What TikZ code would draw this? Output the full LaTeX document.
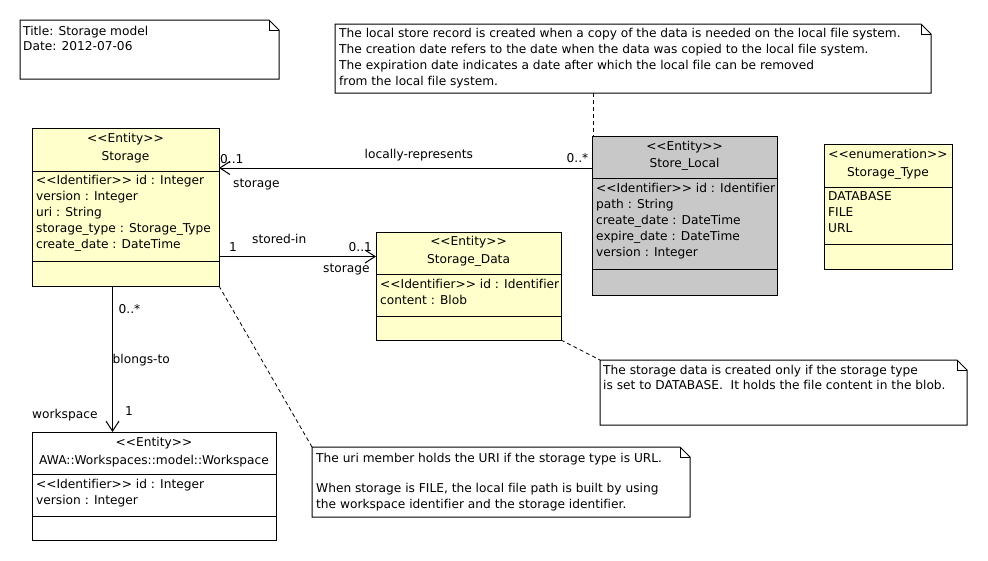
\documentclass[tikz,border=0pt]{standalone}
\usepackage{fontspec}
\setmainfont{DejaVu Sans}[Ligatures={TeXOff,NoCommon}]
\usetikzlibrary{arrows.meta}

\definecolor{entityfill}{RGB}{255,255,204}
\definecolor{localfill}{RGB}{200,200,200}

% stereotype label such as <<Entity>>
\newcommand\stereo[1]{<{}<#1>{}>}
% outline of a note with a folded top-right corner
\newcommand\drawnote[1]{%
  \draw[noteline] (#1.north west) -- ([xshift=-10pt]#1.north east)
     -- ([yshift=-10pt]#1.north east) -- (#1.south east) -- (#1.south west) -- cycle;
  \draw[noteline] ([xshift=-10pt]#1.north east) -- ([xshift=-10pt,yshift=-10pt]#1.north east)
     -- ([yshift=-10pt]#1.north east);}

\begin{document}
\begin{tikzpicture}[x=1pt,y=-1pt,
  every node/.style={font=\fontsize{12.2}{15}\selectfont},
  box/.style={draw=black, line width=1pt, anchor=north west, inner sep=0pt, outer sep=0pt},
  entity/.style={box, fill=entityfill},
  notebox/.style={anchor=north west, inner sep=0pt, outer sep=0pt, fill=white},
  noteline/.style={draw=black, line width=1pt, line join=miter},
  sep/.style={draw=black, line width=1pt},
  tl/.style={anchor=base west, inner sep=0pt},
  tc/.style={anchor=base, inner sep=0pt},
  assoc/.style={draw=black, line width=1pt, -{Straight Barb[length=10pt,width=13pt]}},
  notelink/.style={draw=black, line width=0.8pt, dash pattern=on 4pt off 3pt}]
\useasboundingbox (0,0) rectangle (988,560);

% ---------- notes ----------
\node[notebox, minimum width=259pt, minimum height=59pt] (title) at (20,20) {};
\drawnote{title}
\node[tl] (title1) at (23,35) {Title: Storage model};
\node[tl] (title2) at (23,50) {Date: 2012-07-06};

\node[notebox, minimum width=596pt, minimum height=69pt] (localnote) at (335,24) {};
\drawnote{localnote}
\node[tl] (ln1) at (339,37) {The local store record is created when a copy of the data is needed on the local file system.};
\node[tl] (ln2) at (339,53) {The creation date refers to the date when the data was copied to the local file system.};
\node[tl] (ln3) at (339,69) {The expiration date indicates a date after which the local file can be removed};
\node[tl] (ln4) at (339,85) {from the local file system.};

\node[notebox, minimum width=367pt, minimum height=65pt] (datanote) at (600,360) {};
\drawnote{datanote}
\node[tl] (dn1) at (603,374) {The storage data is created only if the storage type};
\node[tl] (dn2) at (603,389) {is set to DATABASE.\ \ It holds the file content in the blob.};

\node[notebox, minimum width=378pt, minimum height=70pt] (urinote) at (312,447) {};
\drawnote{urinote}
\node[tl] (un1) at (316,462) {The uri member holds the URI if the storage type is URL.};
\node[tl] (un2) at (316,492) {When storage is FILE, the local file path is built by using};
\node[tl] (un3) at (316,508) {the workspace identifier and the storage identifier.};

% ---------- Storage ----------
\node[entity, minimum width=187pt, minimum height=158pt] (storage) at (32,128) {};
\draw[sep] (storage.west |- 0,171) -- (storage.east |- 0,171);
\draw[sep] (storage.west |- 0,261) -- (storage.east |- 0,261);
\node[tc] (storage-st) at (125.5,142.5) {\stereo{Entity}};
\node[tc] (storage-nm) at (125.5,160.5) {Storage};
\node[tl] (storage-a1) at (36,184.5) {\stereo{Identifier} id : Integer};
\node[tl] (storage-a2) at (36,200.5) {version : Integer};
\node[tl] (storage-a3) at (36,216.5) {uri : String};
\node[tl] (storage-a4) at (36,232.5) {storage\_type : Storage\_Type};
\node[tl] (storage-a5) at (36,248.5) {create\_date : DateTime};

% ---------- Store_Local ----------
\node[box, fill=localfill, minimum width=185pt, minimum height=159pt] (storelocal) at (592,136) {};
\draw[sep] (storelocal.west |- 0,178) -- (storelocal.east |- 0,178);
\draw[sep] (storelocal.west |- 0,269) -- (storelocal.east |- 0,269);
\node[tc] (sl-st) at (684.5,150) {\stereo{Entity}};
\node[tc] (sl-nm) at (684.5,167.5) {Store\_Local};
\node[tl] (sl-a1) at (596,192) {\stereo{Identifier} id : Identifier};
\node[tl] (sl-a2) at (596,208) {path : String};
\node[tl] (sl-a3) at (596,224) {create\_date : DateTime};
\node[tl] (sl-a4) at (596,240) {expire\_date : DateTime};
\node[tl] (sl-a5) at (596,256) {version : Integer};

% ---------- Storage_Type ----------
\node[entity, minimum width=128pt, minimum height=125pt] (storagetype) at (824,144) {};
\draw[sep] (storagetype.west |- 0,187) -- (storagetype.east |- 0,187);
\draw[sep] (storagetype.west |- 0,244) -- (storagetype.east |- 0,244);
\node[tc] (stt-st) at (888,158.5) {\stereo{enumeration}};
\node[tc] (stt-nm) at (888,176.5) {Storage\_Type};
\node[tl] (stt-a1) at (828,200) {DATABASE};
\node[tl] (stt-a2) at (828,216) {FILE};
\node[tl] (stt-a3) at (828,232) {URL};

% ---------- Storage_Data ----------
\node[entity, minimum width=185pt, minimum height=108pt] (storagedata) at (376,232) {};
\draw[sep] (storagedata.west |- 0,274.5) -- (storagedata.east |- 0,274.5);
\draw[sep] (storagedata.west |- 0,316.5) -- (storagedata.east |- 0,316.5);
\node[tc] (sd-st) at (468.5,245.5) {\stereo{Entity}};
\node[tc] (sd-nm) at (468.5,263.5) {Storage\_Data};
\node[tl] (sd-a1) at (380,288) {\stereo{Identifier} id : Identifier};
\node[tl] (sd-a2) at (380,304) {content : Blob};

% ---------- Workspace ----------
\node[box, fill=white, minimum width=244pt, minimum height=108pt] (workspace) at (32,432) {};
\draw[sep] (workspace.west |- 0,474.5) -- (workspace.east |- 0,474.5);
\draw[sep] (workspace.west |- 0,516.5) -- (workspace.east |- 0,516.5);
\node[tc] (ws-st) at (154,446.5) {\stereo{Entity}};
\node[tc] (ws-nm) at (154,464.5) {AWA::Workspaces::model::Workspace};
\node[tl] (ws-a1) at (36,488) {\stereo{Identifier} id : Integer};
\node[tl] (ws-a2) at (36,504) {version : Integer};

% ---------- associations ----------
\coordinate (lr) at ([yshift=-32pt]storelocal.north west);
\draw[assoc] (lr) -- (storage.east |- lr);
\node[tl] (lr-m1) at (220,163) {0..1};
\node[tl] (lr-r1) at (233,187.5) {storage};
\node[tl] (lr-nm) at (364.5,158) {locally-represents};
\node[tl] (lr-m2) at (566.5,162.5) {0..*};

\coordinate (si) at ([yshift=-24.5pt]storagedata.north west);
\draw[assoc] (storage.east |- si) -- (si);
\node[tl] (si-m1) at (229,251) {1};
\node[tl] (si-nm) at (252,243.5) {stored-in};
\node[tl] (si-m2) at (348.5,251) {0..1};
\node[tl] (si-r2) at (323,272) {storage};

\coordinate (bt) at ([xshift=80.5pt]storage.south west);
\draw[assoc] (bt) -- (workspace.north -| bt);
\node[tl] (bt-m1) at (118.5,313) {0..*};
\node[tl] (bt-nm) at (112.5,363) {blongs-to};
\node[tl] (bt-r2) at (32,418) {workspace};
\node[tl] (bt-m2) at (125,415) {1};

% ---------- note links ----------
\coordinate (slt) at ([xshift=1pt]storelocal.north west);
\draw[notelink] (localnote.south -| slt) -- (slt);
\draw[notelink] (storagedata.south east) -- (datanote.north west);
\draw[notelink] (storage.south east) -- (urinote.north west);
\end{tikzpicture}
\end{document}
